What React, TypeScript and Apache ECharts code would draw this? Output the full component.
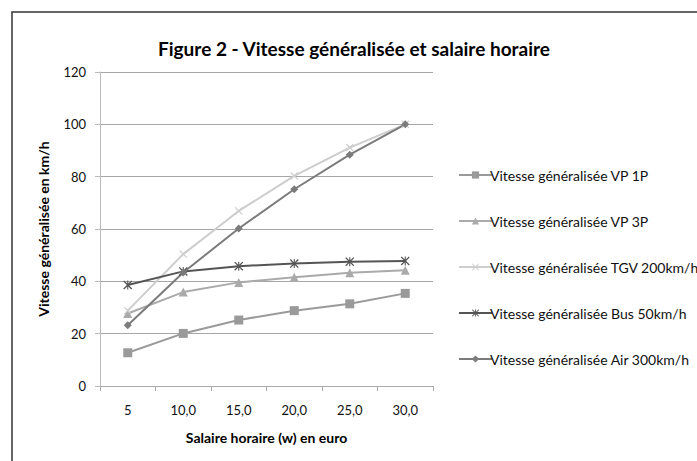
import React, { useEffect, useRef } from "react";
import * as echarts from "echarts";

const categories = ["5", "10,0", "15,0", "20,0", "25,0", "30,0"];
const vp1p = [12.7, 20.1, 25.2, 28.8, 31.4, 35.4];
const vp3p = [27.7, 35.9, 39.6, 41.6, 43.3, 44.2];
const tgv = [28.8, 50.4, 66.9, 80.3, 91.1, 100];
const bus = [38.6, 43.8, 45.8, 46.8, 47.5, 47.8];
const air = [23.2, 43.4, 60.2, 75.2, 88.4, 100];
const seriesNames = [
  "Vitesse généralisée VP 1P",
  "Vitesse généralisée VP 3P",
  "Vitesse généralisée TGV 200km/h",
  "Vitesse généralisée Bus 50km/h",
  "Vitesse généralisée Air 300km/h",
];

const FONT = "Lato";
const X_SYM = "path://M1,0L5,4L9,0L10,1L6,5L10,9L9,10L5,6L1,10L0,9L4,5L0,1Z";
const STAR_SYM =
  "path://M1,0L5,4L9,0L10,1L6,5L10,9L9,10L5,6L1,10L0,9L4,5L0,1Z M4.4,0L5.6,0L5.6,10L4.4,10Z";

export default function App() {
  const ref = useRef<HTMLDivElement>(null);
  useEffect(() => {
    document.body.style.margin = "0";
    const chart = echarts.init(ref.current!, null, { renderer: "svg" });
    const mk = (name: string, data: number[], color: string, symbol: string, size: number) => ({
      name,
      type: "line",
      data,
      symbol,
      symbolSize: size,
      showSymbol: true,
      lineStyle: { color, width: 2 },
      itemStyle: { color, borderWidth: 0 },
      emphasis: { disabled: true },
    });
    chart.setOption({
      animation: false,
      backgroundColor: "#ffffff",
      title: {
        text: "Figure 2 - Vitesse généralisée et salaire horaire",
        left: 349,
        textAlign: "center",
        top: 34,
        textStyle: { fontFamily: FONT, fontWeight: "bold", fontSize: 19, color: "#000" },
      },
      graphic: [
        {
          type: "rect",
          shape: { x: 12, y: 12, width: 800, height: 600 },
          style: { fill: "none", stroke: "#333", lineWidth: 1.5 },
          silent: true,
        },
      ],
      grid: { left: 100, right: 264, top: 72, bottom: 75 },
      legend: {
        orient: "vertical",
        left: 453,
        top: 163,
        itemWidth: 33,
        itemHeight: 9,
        itemGap: 32,
        textStyle: { fontFamily: FONT, fontSize: 14, color: "#111", padding: [0, 0, 0, -7] },
        data: seriesNames,
      },
      xAxis: {
        type: "category",
        data: categories,
        boundaryGap: true,
        name: "Salaire horaire (w) en euro",
        nameLocation: "middle",
        nameGap: 44,
        nameTextStyle: { fontFamily: FONT, fontWeight: "bold", fontSize: 14, color: "#000" },
        axisLine: { lineStyle: { color: "#aaa", width: 1 } },
        axisTick: { show: true, length: 5, alignWithLabel: false, lineStyle: { color: "#aaa" } },
        axisLabel: { fontFamily: FONT, fontSize: 13, color: "#111", margin: 17 },
        splitLine: { show: false },
      },
      yAxis: {
        type: "value",
        min: 0,
        max: 120,
        interval: 20,
        name: "Vitesse généralisée en km/h",
        nameLocation: "middle",
        nameGap: 50,
        nameTextStyle: { fontFamily: FONT, fontWeight: "bold", fontSize: 14, color: "#000" },
        axisLine: { show: true, lineStyle: { color: "#bbb", width: 1 } },
        axisTick: { show: true, length: 5, lineStyle: { color: "#bbb" } },
        axisLabel: { fontFamily: FONT, fontSize: 13, color: "#111", margin: 14 },
        splitLine: { show: true, lineStyle: { color: "#a6a6a6", width: 1 } },
      },
      series: [
        mk(seriesNames[0], vp1p, "#9a9a9a", "rect", 9),
        mk(seriesNames[1], vp3p, "#aaaaaa", "triangle", 9),
        mk(seriesNames[2], tgv, "#cdcdcd", X_SYM, 8),
        mk(seriesNames[3], bus, "#555555", STAR_SYM, 9),
        mk(seriesNames[4], air, "#7b7b7b", "diamond", 8),
      ],
    });
    return () => chart.dispose();
  }, []);
  return <div ref={ref} style={{ width: 697, height: 461 }} />;
}
